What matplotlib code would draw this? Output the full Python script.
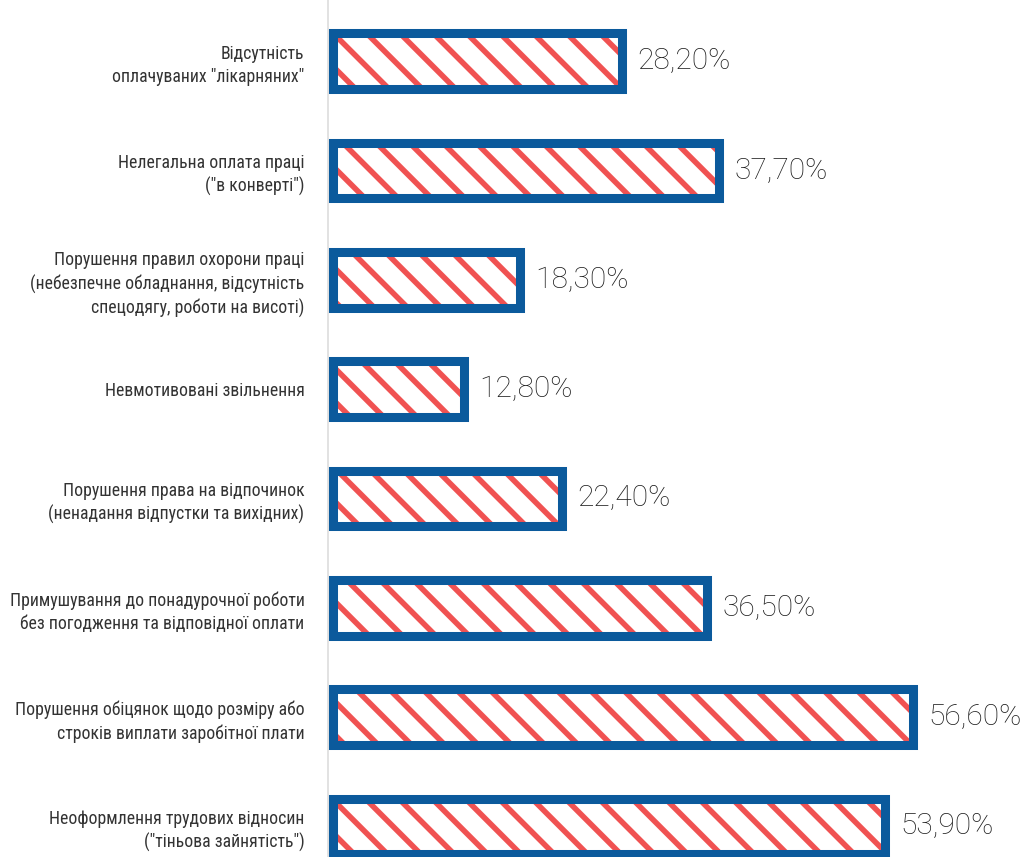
import matplotlib.pyplot as plt

# survey results, % of respondents
labels = [
    'Відсутність\nоплачуваних "лікарняних"',
    'Нелегальна оплата праці\n("в конверті")',
    'Порушення правил охорони праці\n(небезпечне обладнання, відсутність\nспецодягу, роботи на висоті)',
    'Невмотивовані звільнення',
    'Порушення права на відпочинок\n(ненадання відпустки та вихідних)',
    'Примушування до понадурочної роботи\nбез погодження та відповідної оплати',
    'Порушення обіцянок щодо розміру або\nстроків виплати заробітної плати',
    'Неоформлення трудових відносин\n("тіньова зайнятість")',
]
values = [28.2, 37.7, 18.3, 12.8, 22.4, 36.5, 56.6, 53.9]
value_text = ['28,20%', '37,70%', '18,30%', '12,80%', '22,40%', '36,50%', '56,60%', '53,90%']

blue = '#0b5a9c'
red = '#f05252'

plt.rcParams['hatch.linewidth'] = 4.0

fig = plt.figure(figsize=(10.30, 8.57), dpi=100)
ax = fig.add_axes([328 / 1030, 0, 702 / 1030, 1])

ypos = list(range(len(values)))

# hatched fill first, then the thick blue frame on top
ax.barh(ypos, values, height=0.51, color='white', edgecolor=red,
        hatch='\\', linewidth=0, zorder=2)
ax.barh(ypos, values, height=0.51, fill=False, edgecolor=blue,
        linewidth=6.5, zorder=3, clip_on=False)

for y, v, t in zip(ypos, values, value_text):
    ax.annotate(t, (v, y), xytext=(11, 0), textcoords='offset points',
                va='center', ha='left', fontsize=21.5, color='#1e1e1e',
                family=['Roboto', 'DejaVu Sans'], fontweight='light')

ax.set_xlim(-0.45, 68.0)
ax.set_ylim(7.28, -0.56)
ax.set_yticks(ypos)
ax.set_yticklabels(labels, family=['Roboto Condensed', 'Roboto', 'DejaVu Sans'],
                   fontstretch='condensed', fontsize=12.8, color='#333333',
                   linespacing=1.35)
ax.tick_params(axis='y', length=0, pad=17)
ax.set_xticks([])

for s in ['top', 'right', 'bottom']:
    ax.spines[s].set_visible(False)
ax.spines['left'].set_color('#dddddd')
ax.spines['left'].set_linewidth(1.2)

fig.savefig('out.png', dpi=100)
